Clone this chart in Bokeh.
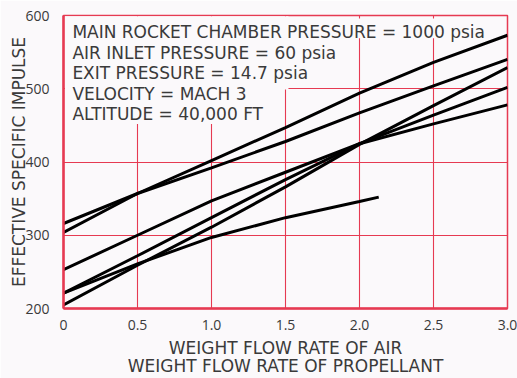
from bokeh.plotting import figure
from bokeh.models import Label, FixedTicker, LinearAxis
from bokeh.embed import file_html
from bokeh.resources import INLINE

# ---- data ----
x_full = [0.0, 0.5, 1.0, 1.5, 2.0, 2.5, 3.0]
curve_a = [304, 357, 402, 447, 494, 536, 573]
curve_b = [316, 357, 392, 428, 467, 504, 540]
curve_c = [253, 300, 347, 386, 425, 452, 478]
curve_d = [221, 272, 324, 376, 425, 464, 502]
curve_e = [205, 259, 311, 366, 424, 477, 529]
x_short = [0.0, 0.5, 1.0, 1.5, 2.0, 2.13]
curve_f = [221, 261, 297, 324, 346, 352]

x_ticks = [0, 0.5, 1.0, 1.5, 2.0, 2.5, 3.0]
x_tick_labels = ["0", "0.5", "1.0", "1.5", "2.0", "2.5", "3.0"]
y_ticks = [200, 300, 400, 500, 600]

note_lines = [
    "MAIN ROCKET CHAMBER PRESSURE = 1000 psia",
    "AIR INLET PRESSURE = 60 psia",
    "EXIT PRESSURE = 14.7 psia",
    "VELOCITY = MACH 3",
    "ALTITUDE = 40,000 FT",
]
x_title_1 = "WEIGHT FLOW RATE OF AIR"
x_title_2 = "WEIGHT FLOW RATE OF PROPELLANT"
y_title = "EFFECTIVE SPECIFIC IMPULSE"

RED = "#e63a52"
BG = "#fbf9fb"
TXT = "#3a3a3a"
TICK_FONT = "Open Sans"
FONT = "DejaVu Sans"

p = figure(width=517, height=378, x_range=(0, 3), y_range=(200, 600),
           output_backend="svg", toolbar_location=None,
           min_border_left=63, min_border_right=10, min_border_top=15,
           min_border_bottom=70)
p.background_fill_color = BG
p.border_fill_color = BG
p.outline_line_color = RED
p.outline_line_width = 1.5

for ax in (p.xaxis[0], p.yaxis[0]):
    ax.axis_line_color = RED
    ax.axis_line_width = 2.5
    ax.major_tick_line_color = None
    ax.minor_tick_line_color = None
    ax.major_label_text_font = TICK_FONT
    ax.major_label_text_font_size = "14px"
    ax.major_label_text_color = TXT
    ax.axis_label_text_font = FONT
    ax.axis_label_text_font_style = "normal"
    ax.axis_label_text_color = TXT

p.xaxis.ticker = FixedTicker(ticks=x_ticks)
p.xaxis.major_label_overrides = {t: l for t, l in zip(x_ticks, x_tick_labels)}
p.xaxis.major_label_standoff = 5
p.xaxis.axis_label = x_title_1
p.xaxis.axis_label_text_font_size = "17px"
p.xaxis.axis_label_standoff = 5
p.yaxis.ticker = FixedTicker(ticks=y_ticks)
p.yaxis.major_label_standoff = 8
p.yaxis.axis_label = y_title
p.yaxis.axis_label_text_font_size = "17px"
p.yaxis.axis_label_standoff = -7

ax2 = LinearAxis(ticker=FixedTicker(ticks=[]), axis_line_color=None,
                 major_tick_line_color=None, minor_tick_line_color=None,
                 major_label_text_font_size="0px",
                 axis_label=x_title_2, axis_label_standoff=-5,
                 axis_label_text_font=FONT, axis_label_text_font_size="17px",
                 axis_label_text_font_style="normal",
                 axis_label_text_color=TXT)
p.add_layout(ax2, "below")

p.xgrid.ticker = FixedTicker(ticks=x_ticks[1:-1])
p.ygrid.ticker = FixedTicker(ticks=y_ticks[1:-1])
for g in (p.xgrid[0], p.ygrid[0]):
    g.grid_line_color = RED
    g.grid_line_width = 1.1

# background patches behind the note text (hide grid there)
p.quad(left=[0.01, 0.01, 1.5], right=[1.52, 1.03, 2.88],
       bottom=[499, 452, 569], top=[599, 501, 596],
       fill_color=BG, line_color=None)

for ys in (curve_a, curve_b, curve_c, curve_d, curve_e):
    p.line(x_full, ys, line_color="black", line_width=3)
p.line(x_short, curve_f, line_color="black", line_width=3)

note_y = [577, 549, 521, 493, 465]
for t, yy in zip(note_lines, note_y):
    p.add_layout(Label(x=0.06, y=yy, text=t, text_font=FONT,
                       text_font_size="17px", text_color=TXT,
                       text_baseline="middle"))

open("out.html", "w").write(file_html(p, INLINE))
